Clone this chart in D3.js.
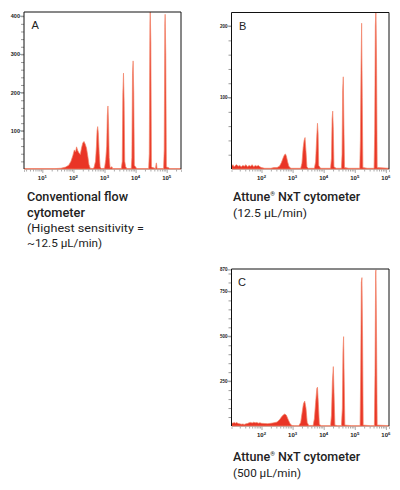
<!DOCTYPE html>
<html><head><meta charset="utf-8">
<script src="https://cdn.jsdelivr.net/npm/d3@7"></script>
<style>body{margin:0;background:#fff}svg{display:block}</style>
</head><body>
<script>
// ---- data (x = log10 fluorescence, y = count) ----
const histA = [[0.41,1],[1.4,1],[1.6,2],[1.75,5],[1.85,10],[1.92,20],[1.98,35],[2.03,50],[2.07,45],[2.10,58],[2.14,48],[2.18,42],[2.22,38],[2.26,55],[2.30,68],[2.34,72],[2.38,65],[2.42,55],[2.46,35],[2.50,12],[2.54,2],[2.62,1],
 [2.66,3],[2.71,20],[2.74,60],[2.76,100],[2.78,111],[2.80,95],[2.83,40],[2.86,5],[2.90,1],
 [3.00,2],[3.04,25],[3.07,60],[3.09,140],[3.11,165],[3.13,120],[3.15,30],[3.18,3],[3.24,6],[3.26,1],
 [3.54,1],[3.57,20],[3.59,200],[3.61,251],[3.63,180],[3.65,20],[3.68,6],[3.72,1],
 [3.86,1],[3.88,30],[3.90,250],[3.92,283],[3.94,200],[3.96,10],[4.0,5],[4.04,1],
 [4.42,1],[4.44,40],[4.46,380],[4.47,420],[4.49,330],[4.51,5],
 [4.64,1],[4.66,14],[4.67,16],[4.69,1],
 [4.90,1],[4.92,50],[4.94,380],[4.95,405],[4.97,300],[4.99,5],[5.05,4],[5.1,1],[5.46,1]];
const histB = [[1.04,4],[1.08,6],[1.12,3],[1.16,5],[1.2,6],[1.25,4],[1.3,5],[1.35,3],[1.4,5],[1.45,4],[1.5,6],[1.55,3],[1.6,5],[1.65,4],[1.7,6],[1.75,3],[1.8,5],[1.85,4],[1.9,5],[1.95,3],[2.0,2],[2.1,1],[2.3,1],[2.4,2],
 [2.5,2],[2.58,4],[2.64,9],[2.70,16],[2.74,20],[2.77,21],[2.80,18],[2.84,10],[2.88,4],[2.94,1],
 [3.26,1],[3.30,8],[3.34,30],[3.37,40],[3.40,44],[3.43,25],[3.46,3],[3.5,1],
 [3.70,1],[3.74,10],[3.77,40],[3.80,64],[3.82,50],[3.84,5],[3.9,1],
 [4.22,1],[4.25,15],[4.27,70],[4.29,81],[4.31,55],[4.33,3],[4.4,1],
 [4.57,1],[4.59,20],[4.61,110],[4.63,129],[4.65,60],[4.67,2],[4.8,1],
 [5.16,1],[5.18,40],[5.20,140],[5.22,204],[5.24,100],[5.26,2],[5.4,1],
 [5.62,1],[5.64,50],[5.66,200],[5.68,225],[5.70,150],[5.72,2],[6.10,1]];
const histC = [[1.04,18],[1.08,15],[1.12,20],[1.16,16],[1.2,19],[1.25,14],[1.3,12],[1.35,10],[1.4,11],[1.45,9],[1.5,12],[1.55,14],[1.6,18],[1.65,20],[1.7,17],[1.75,21],[1.8,18],[1.85,20],[1.9,16],[1.95,18],[2.0,15],[2.1,14],[2.2,13],[2.3,15],[2.4,18],
 [2.5,22],[2.58,35],[2.64,50],[2.70,62],[2.75,67],[2.80,60],[2.86,35],[2.92,12],[2.98,3],[3.05,2],
 [3.20,2],[3.26,20],[3.31,80],[3.35,125],[3.39,139],[3.43,100],[3.47,20],[3.52,3],
 [3.66,3],[3.70,40],[3.74,130],[3.78,210],[3.80,216],[3.83,120],[3.86,10],[3.92,2],
 [4.22,2],[4.25,60],[4.28,250],[4.31,331],[4.33,200],[4.36,5],[4.45,2],
 [4.57,2],[4.60,100],[4.62,420],[4.64,498],[4.66,250],[4.68,5],[4.9,2],
 [5.17,2],[5.19,300],[5.21,800],[5.23,827],[5.25,500],[5.27,5],[5.5,2],
 [5.63,2],[5.65,300],[5.67,860],[5.68,870],[5.70,500],[5.72,5],[6.10,2]];

const xDomainA = [0.41, 5.46], xDomainBC = [1.035, 6.10];
const xExpA = [1,2,3,4,5], xExpBC = [2,3,4,5,6];
const yTicksA = [100,200,300,400], yTicksB = [100,200], yTicksC = [250,500,750,870];
const yMinorA = 20, yMinorB = 20, yMinorC = 50;
const yMaxA = 411, yMaxB = 219, yMaxC = 875;

const captionA = ["Conventional flow","cytometer","(Highest sensitivity =","~12.5 µL/min)"];
const captionB = ["Attune","NxT cytometer","(12.5 µL/min)"];
const captionC = ["Attune","NxT cytometer","(500 µL/min)"];

const svg = d3.select("body").append("svg").attr("width",400).attr("height",490);

function panel(o){
  const g = svg.append("g");
  const x = d3.scaleLog().domain(o.xd.map(v=>Math.pow(10,v))).range([o.l,o.r]);
  const y = d3.scaleLinear().domain([0,o.ymax]).range([o.b,o.t]);
  g.append("clipPath").attr("id","c"+o.id).append("rect").attr("x",o.l).attr("y",o.t).attr("width",o.r-o.l).attr("height",o.b-o.t+1);
  const lo = Math.floor(o.xd[0]), hi = Math.ceil(o.xd[1]);
  const minors=[];
  for(let e=lo;e<hi;e++) for(let m=1;m<10;m++){const v=m*Math.pow(10,e); if(Math.log10(v)>=o.xd[0]&&Math.log10(v)<=o.xd[1]) minors.push(v);}
  const xa = d3.axisBottom(x).tickValues(minors).tickSize(3).tickFormat("");
  const gx = g.append("g").attr("transform",`translate(0,${o.b})`).call(xa);
  gx.select(".domain").attr("stroke","#bbb");
  gx.selectAll(".tick line").attr("stroke","#aaa").attr("y2",d=>Math.abs(Math.log10(d)-Math.round(Math.log10(d)))<1e-6?4:2.5);
  o.xe.forEach(e=>{
    const t = g.append("text").attr("x",x(Math.pow(10,e))).attr("y",o.b+11).attr("text-anchor","middle")
      .attr("font-family","Liberation Sans, Arial").attr("font-weight","bold").attr("font-size",o.xfs).attr("fill","#222");
    t.append("tspan").text("10");
    t.append("tspan").attr("dy",-2.5).attr("font-size",o.xfs*0.7).text(e);
  });
  const ym = d3.range(o.ystep, o.ymax, o.ystep);
  const ya = d3.axisLeft(y).tickValues(ym).tickSize(3).tickFormat("");
  const gy = g.append("g").attr("transform",`translate(${o.l},0)`).call(ya);
  gy.select(".domain").remove();
  gy.selectAll(".tick line").attr("stroke","#999");
  o.yt.forEach(v=>{
    g.append("line").attr("x1",o.l-4).attr("x2",o.l).attr("y1",y(v)).attr("y2",y(v)).attr("stroke","#999");
    g.append("text").attr("x",o.l-4).attr("y",y(v)+o.yfs*0.35).attr("text-anchor","end")
      .attr("font-family","Liberation Sans, Arial").attr("font-weight","bold").attr("font-size",o.yfs).attr("fill","#222").text(v);
  });
  const area = d3.area().x(d=>x(Math.pow(10,d[0]))).y0(o.b).y1(d=>y(d[1])).curve(d3.curveLinear);
  g.append("path").datum(o.data).attr("clip-path",`url(#c${o.id})`).attr("d",area)
    .attr("fill","#e93526").attr("stroke","#f28469").attr("stroke-width",0.7).attr("stroke-linejoin","round");
  g.append("path").attr("d",`M${o.l},${o.b}V${o.t}H${o.r}V${o.b}`).attr("fill","none").attr("stroke","#111").attr("stroke-width",1);
  g.append("text").attr("x",o.lx).attr("y",o.ly).attr("font-family","Liberation Sans, Arial").attr("font-size",11).attr("fill","#222").text(o.id);
}

panel({id:"A",l:24,r:181,t:12,b:169,xd:xDomainA,xe:xExpA,ymax:yMaxA,yt:yTicksA,ystep:yMinorA,data:histA,xfs:6,yfs:5.5,lx:31.5,ly:29});
panel({id:"B",l:231.5,r:389,t:12.5,b:169,xd:xDomainBC,xe:xExpBC,ymax:yMaxB,yt:yTicksB,ystep:yMinorB,data:histB,xfs:6,yfs:4.5,lx:239,ly:30});
panel({id:"C",l:231.5,r:389,t:269,b:426,xd:xDomainBC,xe:xExpBC,ymax:yMaxC,yt:yTicksC,ystep:yMinorC,data:histC,xfs:6,yfs:4.5,lx:238,ly:286});

const ff = "Roboto, 'Liberation Sans', sans-serif";
[[captionA[0],201,500,101],[captionA[1],217,500,58],[captionA[2],232,400,117],[captionA[3],247,400,75]].forEach(([s,yy,w,len])=>{
  svg.append("text").attr("x",27).attr("y",yy).attr("font-family",ff).attr("font-weight",w).attr("font-size",w==500?12.5:11.5)
    .attr("fill","#222").attr("textLength",len).attr("lengthAdjust","spacingAndGlyphs").text(s);
});
function attune(x,y0){
  const t = svg.append("text").attr("x",x).attr("y",y0).attr("font-family",ff).attr("font-weight",500).attr("font-size",12.5).attr("fill","#222");
  t.append("tspan").text(captionB[0]);
  t.append("tspan").attr("dy",-5).attr("font-size",6).text("®");
  t.append("tspan").attr("dy",5).text(" "+captionB[1]);
}
attune(233,201);
svg.append("text").attr("x",233).attr("y",217).attr("font-family",ff).attr("font-size",11.5).attr("fill","#222")
  .attr("textLength",74).attr("lengthAdjust","spacingAndGlyphs").text(captionB[2]);
attune(233,461);
svg.append("text").attr("x",233).attr("y",477).attr("font-family",ff).attr("font-size",11.5).attr("fill","#222")
  .attr("textLength",68).attr("lengthAdjust","spacingAndGlyphs").text(captionC[2]);
</script>
</body></html>
